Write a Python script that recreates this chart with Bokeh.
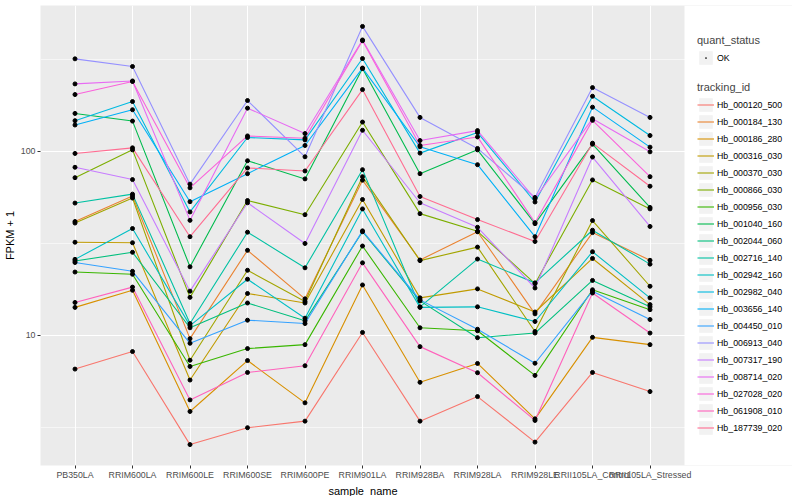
import math
from bokeh.plotting import figure
from bokeh.models import (ColumnDataSource, Range1d, FixedTicker, Legend, LegendItem,
                          BasicTickFormatter, BoxAnnotation, Title)
from bokeh.embed import file_html
from bokeh.resources import INLINE

FONT = "Liberation Sans"

samples = ["PB350LA", "RRIM600LA", "RRIM600LE", "RRIM600SE", "RRIM600PE",
           "RRIM901LA", "RRIM928BA", "RRIM928LA", "RRIM928LE",
           "RRII105LA_Control", "RRII105LA_Stressed"]

tracking_ids = ["Hb_000120_500", "Hb_000184_130", "Hb_000186_280", "Hb_000316_030",
                "Hb_000370_030", "Hb_000866_030", "Hb_000956_030", "Hb_001040_160",
                "Hb_002044_060", "Hb_002716_140", "Hb_002942_160", "Hb_002982_040",
                "Hb_003656_140", "Hb_004450_010", "Hb_006913_040", "Hb_007317_190",
                "Hb_008714_020", "Hb_027028_020", "Hb_061908_010", "Hb_187739_020"]

# FPKM + 1 per sample, in the order of `samples`
hb_000120_500 = [6.56, 8.17, 2.55, 3.15, 3.42, 10.38, 3.42, 4.65, 2.63, 6.29, 4.95]
hb_000184_130 = [41.6, 57.2, 9.60, 29.0, 15.8, 69.8, 25.7, 36.6, 13.1, 36.2, 25.6]
hb_000186_280 = [14.2, 17.6, 3.86, 7.30, 4.30, 18.8, 5.56, 7.04, 3.52, 9.76, 8.91]
hb_000316_030 = [32.1, 31.9, 5.72, 16.9, 15.0, 54.8, 16.0, 17.9, 13.4, 26.2, 14.7]
hb_000370_030 = [40.8, 55.8, 7.33, 22.6, 15.3, 72.9, 25.5, 30.2, 10.5, 42.1, 18.5]
hb_000866_030 = [72.0, 102.0, 16.1, 54.1, 45.3, 144.4, 45.9, 36.8, 19.1, 70.0, 48.7]
hb_000956_030 = [22.1, 21.5, 6.78, 8.48, 8.91, 30.6, 11.0, 10.6, 6.06, 17.7, 13.8]
hb_001040_160 = [160.9, 146.2, 23.6, 89.0, 70.9, 282.0, 75.7, 102.0, 40.5, 109.5, 49.6]
hb_002044_060 = [25.4, 28.3, 11.0, 15.0, 12.0, 36.6, 15.4, 9.72, 10.3, 19.9, 14.3]
hb_002716_140 = [52.4, 58.6, 11.6, 36.4, 23.3, 79.6, 14.3, 26.0, 19.3, 37.3, 24.4]
hb_002942_160 = [25.9, 38.1, 11.3, 20.2, 12.4, 48.7, 14.2, 14.3, 11.9, 28.5, 16.0]
hb_002982_040 = [146.9, 186.7, 46.9, 119.0, 115.5, 319.8, 97.9, 126.6, 53.1, 199.5, 122.0]
hb_003656_140 = [139.2, 168.5, 53.3, 75.7, 107.7, 283.9, 106.0, 84.7, 34.4, 174.0, 105.5]
hb_004450_010 = [24.9, 22.3, 9.06, 12.1, 11.6, 37.0, 15.6, 10.8, 7.06, 17.4, 12.2]
hb_006913_040 = [318.6, 289.5, 66.4, 189.1, 93.5, 478.1, 153.1, 103.8, 56.2, 222.3, 153.1]
hb_007317_190 = [82.0, 70.3, 17.4, 52.6, 31.6, 130.3, 52.6, 38.7, 18.1, 93.2, 39.1]
hb_008714_020 = [232.8, 241.5, 42.2, 171.9, 125.1, 403.4, 114.6, 129.8, 55.3, 150.7, 99.5]
hb_027028_020 = [203.8, 240.0, 63.4, 121.4, 117.9, 399.9, 107.7, 119.9, 41.0, 147.5, 72.9]
hb_061908_010 = [15.1, 18.3, 4.46, 6.29, 6.84, 24.8, 8.69, 6.27, 3.45, 17.0, 10.3]
hb_187739_020 = [97.5, 104.6, 34.4, 81.3, 78.3, 216.8, 56.9, 42.6, 32.4, 110.9, 64.7]

series = [hb_000120_500, hb_000184_130, hb_000186_280, hb_000316_030, hb_000370_030,
          hb_000866_030, hb_000956_030, hb_001040_160, hb_002044_060, hb_002716_140,
          hb_002942_160, hb_002982_040, hb_003656_140, hb_004450_010, hb_006913_040,
          hb_007317_190, hb_008714_020, hb_027028_020, hb_061908_010, hb_187739_020]

quant_status = ["OK"]

colors = ["#F8766D", "#EA8331", "#D89000", "#C09B00", "#A3A500", "#7CAE00", "#39B600",
          "#00BB4E", "#00BF7D", "#00C1A3", "#00BFC4", "#00BAE0", "#00B0F6", "#35A2FF",
          "#9590FF", "#C77CFF", "#E76BF3", "#FA62DB", "#FF62BC", "#FF6C91"]

xs = list(range(len(samples)))

allv = [v for s in series for v in s]
lo, hi = math.log10(min(allv)), math.log10(max(allv))
pad = (hi - lo) * 0.05

# layout (pixels)
TOP = 5
FRAME_W, FRAME_H = 752, 460
PANEL_W = 644                     # width of the grey data panel
x_start = -0.6
x_panel_end = len(samples) - 1 + 0.6
x_end = x_start + (x_panel_end - x_start) * FRAME_W / PANEL_W

p = figure(frame_width=FRAME_W, frame_height=FRAME_H,
           x_range=Range1d(x_start, x_end),
           y_axis_type="log", y_range=Range1d(10 ** (lo - pad), 10 ** (hi + pad)),
           output_backend="svg", toolbar_location=None,
           min_border_left=32, min_border_right=0, min_border_top=TOP, min_border_bottom=0)
p.background_fill_color = "#EBEBEB"
p.border_fill_color = "white"
p.outline_line_color = None

# white area to the right of the grey panel, holding the legends
p.add_layout(BoxAnnotation(left=x_panel_end, fill_color="white", fill_alpha=1,
                           line_color=None, level="underlay"))

yt = FixedTicker(ticks=[10, 100], minor_ticks=[10 ** 0.5, 10 ** 1.5, 10 ** 2.5])
p.yaxis.ticker = yt
p.ygrid.ticker = yt
p.yaxis.formatter = BasicTickFormatter()
p.ygrid.grid_line_color = "white"
p.ygrid.grid_line_width = 1.1
p.ygrid.minor_grid_line_color = "white"
p.ygrid.minor_grid_line_width = 0.55

xt = FixedTicker(ticks=xs)
p.xaxis.ticker = xt
p.xgrid.ticker = xt
p.xaxis.major_label_overrides = {i: s for i, s in zip(xs, samples)}
p.xgrid.grid_line_color = "white"
p.xgrid.grid_line_width = 1.1

for ax in (p.xaxis[0], p.yaxis[0]):
    ax.axis_line_color = None
    ax.major_tick_line_color = "#333333"
    ax.major_tick_out = 3
    ax.major_tick_in = 0
    ax.minor_tick_line_color = None
    ax.major_label_text_font = FONT
    ax.major_label_text_font_size = "8.8px"
    ax.major_label_text_color = "#4D4D4D"
    ax.major_label_standoff = 1
    ax.axis_label_text_font = FONT
    ax.axis_label_text_font_size = "11px"
    ax.axis_label_text_font_style = "normal"
    ax.axis_label_text_color = "black"
    ax.axis_label_standoff = 2
p.xaxis.axis_label_standoff = 0
p.yaxis.axis_label = "FPKM + 1"

p.add_layout(Title(text="sample_name", align="left", offset=288, standoff=0,
                   text_font=FONT, text_font_size="11px", text_font_style="normal",
                   text_color="black"), "below")

nan = float("nan")
key_bg = p.quad(left=[nan], right=[nan], top=[nan], bottom=[nan],
                fill_color="#F2F2F2", line_color=None)
ok_key = p.scatter([nan], [nan], marker="dot", size=4, fill_color="black",
                   line_color="black", line_width=1.5)

line_items = []
for tid, vals, col in zip(tracking_ids, series, colors):
    src = ColumnDataSource(dict(x=xs, y=vals))
    r = p.line("x", "y", source=src, line_color=col, line_width=1.1)
    line_items.append(LegendItem(label=tid, renderers=[key_bg, r]))

px, py = [], []
for vals in series:
    px.extend(xs)
    py.extend(vals)
pts = p.scatter(px, py, marker="circle", size=4, fill_color="black", line_color="black")

def style_legend(leg):
    leg.border_line_color = None
    leg.background_fill_alpha = 0
    leg.padding = 0
    leg.spacing = 0
    leg.margin = 0
    leg.glyph_width = 17
    leg.glyph_height = 17
    leg.label_height = 17
    leg.label_standoff = 3
    leg.label_text_font = FONT
    leg.label_text_font_size = "8.8px"
    leg.label_text_color = "black"
    leg.title_text_font = FONT
    leg.title_text_font_size = "11px"
    leg.title_text_font_style = "normal"
    leg.title_standoff = 3

F_L, F_B = 40, TOP + FRAME_H
leg1 = Legend(items=[LegendItem(label=quant_status[0], renderers=[key_bg, ok_key])],
              title="quant_status", location=(697 - F_L, F_B - 66))
leg2 = Legend(items=line_items, title="tracking_id", location=(697 - F_L, F_B - 436))
style_legend(leg1)
style_legend(leg2)
p.add_layout(leg1)
p.add_layout(leg2)

open("out.html", "w").write(file_html(p, INLINE))
